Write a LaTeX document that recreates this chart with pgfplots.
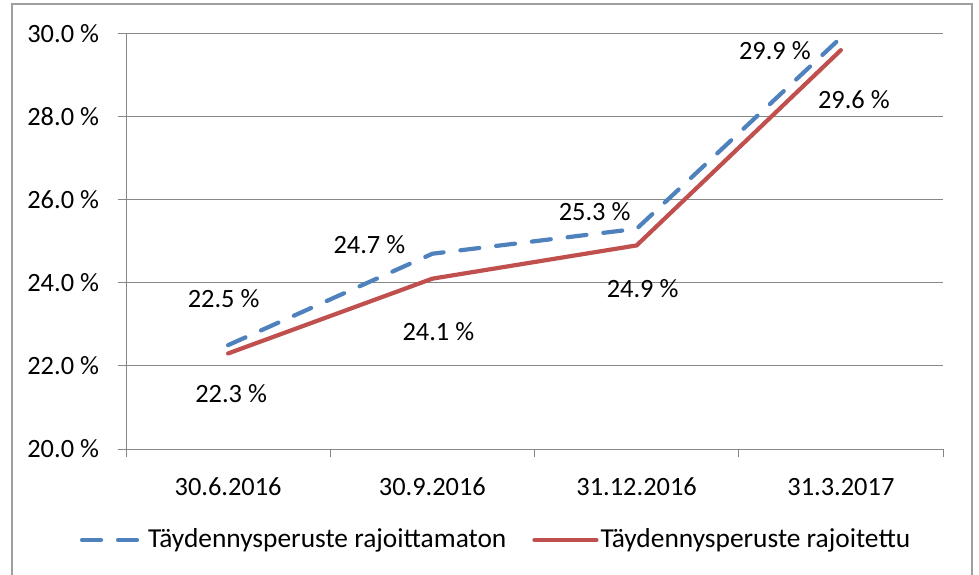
\documentclass[border=0pt]{standalone}
\usepackage{pgfplots}
\pgfplotsset{compat=1.18}
\usepackage{pgfplotstable}
\usepackage{fontspec}
\setmainfont{Carlito}
\definecolor{xlblue}{HTML}{4F81BD}
\definecolor{xlred}{HTML}{C0504D}
\definecolor{xlgray}{HTML}{878787}
\pgfplotstableread{
x y dx dy
0.5 22.5 -4.5 47
1.5 24.7 -63 9
2.5 25.3 -42 17
3.5 29.9 -66 -13
}\bluedata
\pgfplotstableread{
x y dx dy
0.5 22.3 3 -40
1.5 24.1 6 -53
2.5 24.9 6 -43
3.5 29.6 13 -49
}\reddata
\newcommand\fs{\fontsize{26.5}{31}\selectfont}
\newcommand\fsl{\fontsize{27.5}{32}\selectfont}
\begin{document}
\fs
\begin{tikzpicture}
\useasboundingbox (0,0) rectangle (979bp,-575bp);
\draw[xlgray!80, line width=1.3bp] (12bp,-4bp) rectangle (972bp,-590bp);
\begin{axis}[
  at={(126bp,-449bp)}, anchor=south west,
  scale only axis, width=817bp, height=415.5bp,
  xmin=0, xmax=4, ymin=20, ymax=30,
  axis x line*=bottom, axis y line*=left,
  axis line style={-, draw=xlgray, line width=1bp},
  xtick={0.5,1.5,2.5,3.5},
  xticklabels={30.6.2016,30.9.2016,31.12.2016,31.3.2017},
  minor xtick={0,1,2,3,4},
  major x tick style={draw=none},
  minor x tick style={draw=xlgray, line width=1bp},
  minor tick length=8bp,
  major tick length=8bp,
  tick align=outside,
  ytick={20,22,24,26,28,30},
  yticklabels={20.0 \%,22.0 \%,24.0 \%,26.0 \%,28.0 \%,30.0 \%},
  y tick style={draw=xlgray, line width=1bp},
  ymajorgrids,
  grid style={draw=xlgray, line width=1bp},
  tick label style={font=\fs},
  yticklabel style={xshift=-10bp},
  xticklabel style={yshift=-12bp},
  legend columns=2,
  legend style={at={(0.453,-0.219)}, anchor=center, draw=none, fill=none,
    font=\fsl, inner xsep=0pt,
    /tikz/every even column/.append style={column sep=24bp}},
  legend image code/.code={\draw[#1] (0bp,0bp) -- (62bp,0bp);},
  clip=false,
]
\addplot[xlblue, line width=4.2bp, line cap=round, dash pattern=on 19bp off 17bp,
  point meta=y,
  nodes near coords={\pgfmathprintnumber[fixed,fixed zerofill,precision=1,assume math mode=true]{\pgfplotspointmeta} \%},
  visualization depends on={\thisrow{dx}\as\dx},
  visualization depends on={\thisrow{dy}\as\dy},
  every node near coord/.append style={anchor=center, xshift=\dx bp, yshift=\dy bp, text=black, solid, font=\fs}]
  table[x=x,y=y] {\bluedata};
\addlegendentry{Täydennysperuste rajoittamaton}
\addplot[xlred, line width=4.2bp, line cap=round,
  point meta=y,
  nodes near coords={\pgfmathprintnumber[fixed,fixed zerofill,precision=1,assume math mode=true]{\pgfplotspointmeta} \%},
  visualization depends on={\thisrow{dx}\as\dx},
  visualization depends on={\thisrow{dy}\as\dy},
  every node near coord/.append style={anchor=center, xshift=\dx bp, yshift=\dy bp, text=black, font=\fs}]
  table[x=x,y=y] {\reddata};
\addlegendentry{Täydennysperuste rajoitettu}
\end{axis}
\end{tikzpicture}
\end{document}
